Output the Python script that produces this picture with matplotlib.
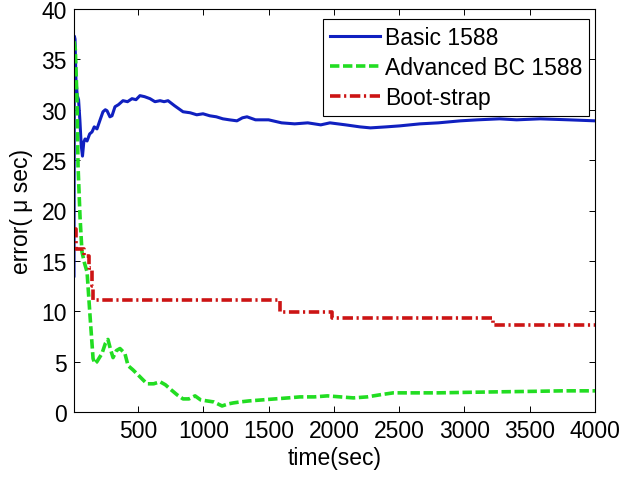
import matplotlib
matplotlib.use('Agg')
import matplotlib.pyplot as plt

# Values
basic_t = [10, 13, 18, 25, 35, 45, 55, 65, 75, 85, 95, 110, 130, 148, 165, 186,
           210, 232, 250, 263, 285, 301, 324, 350, 385, 420, 454, 485, 515, 550,
           592, 630, 669, 700, 730, 780, 845, 900, 950, 998, 1050, 1100, 1150,
           1200, 1258, 1300, 1335, 1400, 1500, 1600, 1700, 1800, 1900, 1970,
           2090, 2200, 2280, 2400, 2505, 2660, 2800, 2970, 3100, 3270, 3400,
           3580, 3800, 4000]
basic_err = [13.5, 37.3, 37.0, 33.0, 31.4, 31.0, 29.0, 26.5, 25.4, 26.8, 27.1,
             26.9, 27.6, 27.8, 28.3, 28.1, 29.0, 29.8, 30.0, 29.9, 29.3, 29.4,
             30.3, 30.5, 30.9, 30.8, 31.1, 31.0, 31.4, 31.3, 31.1, 30.8, 30.9,
             30.8, 30.9, 30.4, 29.8, 29.7, 29.5, 29.6, 29.4, 29.3, 29.1, 29.0,
             28.9, 29.2, 29.3, 29.0, 29.0, 28.7, 28.6, 28.7, 28.5, 28.7, 28.5,
             28.3, 28.2, 28.3, 28.4, 28.6, 28.7, 28.9, 29.0, 29.1, 29.0, 29.1,
             29.0, 28.9]

adv_t = [10, 20, 33, 41, 56, 71, 90, 110, 133, 156, 170, 186, 200, 224, 250,
         270, 290, 309, 335, 362, 385, 400, 424, 460, 492, 530, 569, 620, 669,
         710, 745, 800, 845, 890, 937, 980, 1029, 1080, 1144, 1190, 1229, 1282,
         1350, 1450, 1550, 1650, 1741, 1850, 1950, 2050, 2150, 2255, 2350,
         2455, 2600, 2800, 3020, 3250, 3530, 3750, 4000]
adv_err = [36.8, 36.0, 31.0, 24.4, 19.4, 15.9, 14.8, 13.9, 9.5, 5.3, 4.8, 5.0,
           5.3, 5.8, 6.8, 7.2, 6.2, 5.4, 6.1, 6.3, 6.0, 5.8, 4.6, 4.2, 3.8, 3.3,
           2.8, 2.8, 3.0, 2.7, 2.3, 1.7, 1.3, 1.3, 1.6, 1.2, 1.1, 1.0, 0.6, 0.8,
           0.9, 1.0, 1.1, 1.2, 1.3, 1.4, 1.5, 1.5, 1.6, 1.5, 1.4, 1.5, 1.7, 1.9,
           1.9, 1.9, 1.95, 2.0, 2.05, 2.1, 2.1]

boot_t = [10, 25, 90, 125, 145, 155, 1590, 1986, 3220, 4000]
boot_err = [18.2, 16.2, 15.5, 14.3, 12.5, 11.1, 9.9, 9.3, 8.6, 8.6]

labels = ['Basic 1588', 'Advanced BC 1588', 'Boot-strap']
x_ticks = [500, 1000, 1500, 2000, 2500, 3000, 3500, 4000]
y_ticks = [0, 5, 10, 15, 20, 25, 30, 35, 40]

plt.rcParams['font.family'] = ['Liberation Sans', 'DejaVu Sans']
plt.rcParams['font.size'] = 16.5

fig = plt.figure(figsize=(6.24, 4.81), dpi=100)
ax = fig.add_axes([74 / 624, 68 / 481, 521 / 624, 403 / 481])

ax.plot(basic_t, basic_err, color='#1020c0', linewidth=2.2, label=labels[0])
ax.plot(adv_t, adv_err, color='#22dd22', linewidth=2.6, linestyle=(0, (2.6, 1.0)),
        label=labels[1])
ax.plot(boot_t, boot_err, color='#cc1414', linewidth=2.6, drawstyle='steps-post',
        linestyle=(0, (2.9, 1.0, 0.6, 1.0)), label=labels[2])

ax.set_xlim(10, 4000)
ax.set_ylim(0, 40)
ax.set_xticks(x_ticks)
ax.set_yticks(y_ticks)
ax.tick_params(direction='in', top=True, right=True, length=4, width=0.7, pad=5)
for s in ax.spines.values():
    s.set_linewidth(0.8)

ax.set_xlabel('time(sec)', labelpad=3)
ax.set_ylabel('error( μ sec)', labelpad=6)

leg = ax.legend(loc='upper right', bbox_to_anchor=(0.9885, 0.975), borderaxespad=0,
                fancybox=False, framealpha=1, edgecolor='black', handlelength=2.2,
                handletextpad=0.2, labelspacing=0.3, borderpad=0.3)
leg.get_frame().set_linewidth(0.8)

fig.savefig('out.png', dpi=100)
